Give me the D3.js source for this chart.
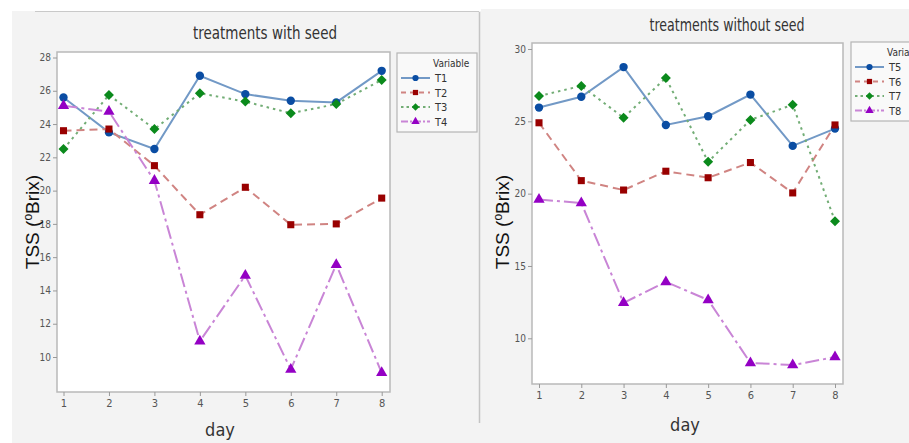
<!DOCTYPE html>
<html>
<head>
<meta charset="utf-8">
<script src="https://cdn.jsdelivr.net/npm/d3@7"></script>
<style>
  body { margin: 0; background: #fff; }
  svg { display: block; }
  text { font-family: "DejaVu Sans Condensed", "Liberation Sans Narrow", sans-serif; }
</style>
</head>
<body>
<svg id="chart" width="909" height="443"></svg>
<script>
// ---------------- DATA ----------------
const days = [1, 2, 3, 4, 5, 6, 7, 8];

const withSeedNames = ["T1", "T2", "T3", "T4"];
const T1 = [25.6, 23.5, 22.5, 26.9, 25.8, 25.4, 25.3, 27.2];
const T2 = [23.6, 23.7, 21.5, 18.55, 20.2, 17.95, 18.0, 19.55];
const T3 = [22.5, 25.75, 23.7, 25.85, 25.35, 24.65, 25.2, 26.65];
const T4 = [25.1, 24.75, 20.6, 10.95, 14.9, 9.25, 15.55, 9.05];

const withoutSeedNames = ["T5", "T6", "T7", "T8"];
const T5 = [25.95, 26.7, 28.75, 24.75, 25.35, 26.85, 23.3, 24.5];
const T6 = [24.9, 20.9, 20.25, 21.55, 21.1, 22.15, 20.05, 24.75];
const T7 = [26.75, 27.45, 25.25, 28.0, 22.2, 25.1, 26.15, 18.1];
const T8 = [19.6, 19.35, 12.45, 13.9, 12.65, 8.3, 8.15, 8.7];

const yTicksLeft = [10, 12, 14, 16, 18, 20, 22, 24, 26, 28];
const yTicksRight = [10, 15, 20, 25, 30];

// series styling (same order for both panels)
const styles = [
  { line: "#7299c6", mark: "#0a4da3", dash: null, legDash: null, shape: d3.symbolCircle, size: 55, rot: 0 },
  { line: "#d08482", mark: "#990000", dash: "8,5", legDash: "5,4", shape: d3.symbolSquare, size: 50, rot: 0 },
  { line: "#72ad75", mark: "#0b8a1c", dash: "2.5,4", legDash: "2.5,3", shape: d3.symbolSquare, size: 50, rot: 45 },
  { line: "#c985d6", mark: "#9400c4", dash: "14,4,3,4", legDash: "7,2,2,2", shape: d3.symbolTriangle, size: 55, rot: 0 },
];

const svg = d3.select("#chart");

// ---------------- BACKGROUND ----------------
svg.append("rect").attr("x", 12).attr("y", 11).attr("width", 897).attr("height", 432).attr("fill", "#f3f3f3");
svg.append("rect").attr("x", 481).attr("y", 9).attr("width", 428).attr("height", 3).attr("fill", "#f3f3f3");
svg.append("line").attr("x1", 35).attr("x2", 479).attr("y1", 11.5).attr("y2", 11.5)
  .attr("stroke", "#c9c9c9").attr("stroke-width", 1.2);
svg.append("line").attr("x1", 479.5).attr("x2", 479.5).attr("y1", 12).attr("y2", 423)
  .attr("stroke", "#c4c4c4").attr("stroke-width", 1.5);

// ---------------- PANEL ----------------
function drawPanel(p) {
  const x = d3.scaleLinear().domain([1, 8]).range([p.x1, p.x8]);
  const y = d3.scaleLinear().domain(p.yDomain).range([p.yBottom, p.yTop]);

  const g = svg.append("g");

  g.append("rect")
    .attr("x", p.left).attr("y", p.top)
    .attr("width", p.right - p.left).attr("height", p.bottom - p.top)
    .attr("fill", "#fff").attr("stroke", "#b9b9b9").attr("stroke-width", 1.5);

  // y axis
  const yAxis = g.append("g")
    .attr("transform", `translate(${p.left},0)`)
    .call(d3.axisLeft(y).tickValues(p.yTicks).tickFormat(d3.format("d")).tickSize(4).tickPadding(2));
  yAxis.select(".domain").remove();
  yAxis.selectAll(".tick line").attr("stroke", "#999");
  yAxis.selectAll(".tick text").attr("fill", "#555").style("font-size", "10px");

  // x axis
  const xAxis = g.append("g")
    .attr("transform", `translate(0,${p.bottom})`)
    .call(d3.axisBottom(x).tickValues(days).tickFormat(d3.format("d")).tickSize(4).tickPadding(3));
  xAxis.select(".domain").remove();
  xAxis.selectAll(".tick line").attr("stroke", "#999");
  xAxis.selectAll(".tick text").attr("fill", "#555").style("font-size", "11px");

  // lines + markers
  const line = d3.line().x((d, i) => x(days[i])).y((d) => y(d));
  p.series.forEach((vals, k) => {
    const st = styles[k];
    g.append("path")
      .datum(vals)
      .attr("d", line)
      .attr("fill", "none")
      .attr("stroke", st.line)
      .attr("stroke-width", 2)
      .attr("stroke-dasharray", st.dash);
  });
  p.series.forEach((vals, k) => {
    const st = styles[k];
    g.selectAll(null)
      .data(vals)
      .enter()
      .append("path")
      .attr("d", d3.symbol().type(st.shape).size(st.size))
      .attr("transform", (d, i) => `translate(${x(days[i])},${y(d)}) rotate(${st.rot})`)
      .attr("fill", st.mark);
  });

  // title
  g.append("text")
    .attr("x", p.titleX).attr("y", p.titleY)
    .attr("text-anchor", "middle")
    .attr("fill", "#333")
    .attr("textLength", p.titleW)
    .attr("lengthAdjust", "spacingAndGlyphs")
    .style("font-size", "17px")
    .text(p.title);

  // x label
  g.append("text")
    .attr("x", p.dayX).attr("y", p.dayY)
    .attr("text-anchor", "middle")
    .attr("fill", "#333")
    .style("font-size", "18px")
    .text("day");

  // y label
  const yl = g.append("text")
    .attr("transform", `translate(${p.ylX},222) rotate(-90)`)
    .attr("text-anchor", "middle")
    .attr("fill", "#111")
    .style("font-family", "'Liberation Sans', Arial, sans-serif")
    .style("font-size", "19px");
  yl.append("tspan").text("TSS (");
  yl.append("tspan").attr("dy", -7).style("font-size", "12px").text("o");
  yl.append("tspan").attr("dy", 7).text("Brix)");

  // legend
  const lg = g.append("g");
  lg.append("rect")
    .attr("x", p.legX).attr("y", p.legY)
    .attr("width", 80).attr("height", 79)
    .attr("fill", "#f9f9f9").attr("stroke", "#b5b5b5").attr("stroke-width", 1.2);
  lg.append("text")
    .attr("x", p.legX + 36).attr("y", p.legY + 14)
    .attr("fill", "#333").style("font-size", "10px")
    .text("Variable");
  p.names.forEach((name, k) => {
    const st = styles[k];
    const ly = p.legY + 25 + k * 14.5;
    lg.append("line")
      .attr("x1", p.legX + 4).attr("x2", p.legX + 33)
      .attr("y1", ly).attr("y2", ly)
      .attr("stroke", st.line).attr("stroke-width", 2)
      .attr("stroke-dasharray", st.legDash);
    lg.append("path")
      .attr("d", d3.symbol().type(st.shape).size(st.size * 0.55))
      .attr("transform", `translate(${p.legX + 18.5},${ly}) rotate(${st.rot})`)
      .attr("fill", st.mark);
    lg.append("text")
      .attr("x", p.legX + 38).attr("y", ly + 4)
      .attr("fill", "#333").style("font-size", "11px")
      .text(name);
  });
}

drawPanel({
  title: "treatments with seed", titleX: 265, titleY: 39, titleW: 144,
  left: 57, right: 390, top: 52, bottom: 392,
  x1: 63.5, x8: 381.7,
  yDomain: [10, 28], yBottom: 357, yTop: 57.5, yTicks: yTicksLeft,
  series: [T1, T2, T3, T4], names: withSeedNames,
  dayX: 220, dayY: 436, ylX: 39,
  legX: 397, legY: 53,
});

drawPanel({
  title: "treatments without seed", titleX: 727, titleY: 31, titleW: 155,
  left: 532, right: 843, top: 43, bottom: 384,
  x1: 539, x8: 835,
  yDomain: [10, 30], yBottom: 338.3, yTop: 49, yTicks: yTicksRight,
  series: [T5, T6, T7, T8], names: withoutSeedNames,
  dayX: 685, dayY: 431, ylX: 509,
  legX: 851, legY: 42,
});
</script>
</body>
</html>
